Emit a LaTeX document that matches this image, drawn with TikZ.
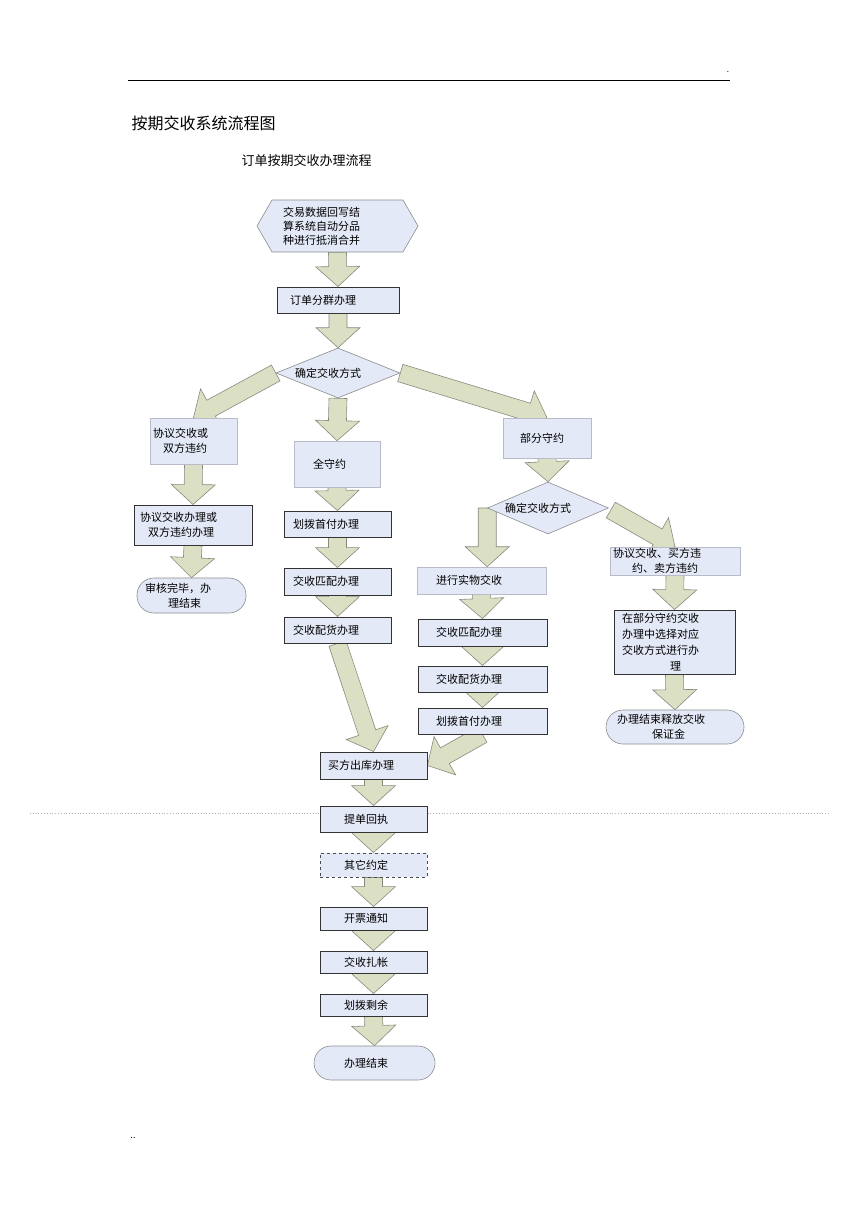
\documentclass[tikz,border=0pt]{standalone}
\usepackage{fontspec}
\setmainfont{Noto Sans CJK SC}
\usepackage{tikz}
\usetikzlibrary{calc,shapes.geometric,shapes.symbols,backgrounds}

\definecolor{boxfill}{RGB}{228,233,247}
\definecolor{arrowfill}{RGB}{219,224,196}
\definecolor{arrowline}{RGB}{135,138,125}
\definecolor{softline}{RGB}{185,188,200}

\tikzset{
  box/.style={draw=black!80, line width=0.9pt, fill=boxfill, inner ysep=0pt,
    align=left, font=\fontsize{11}{15}\selectfont},
  softbox/.style={box, draw=softline, line width=0.6pt},
  dashbox/.style={box, dashed, draw=black!70},
  endbox/.style={softbox, draw=black!45, rounded corners=17pt},
  decide/.style={diamond, aspect=2.4, draw=black!45, line width=0.6pt, fill=boxfill,
    inner sep=0pt, font=\fontsize{11}{15}\selectfont},
  hexa/.style={signal, signal to=west and east, signal pointer angle=120,
    draw=black!45, line width=0.6pt, fill=boxfill, inner sep=0pt,
    align=left, font=\fontsize{11}{14}\selectfont},
  bigarrow/.style={draw=arrowline, fill=arrowfill, line width=0.6pt, line join=miter}
}

% fat block arrow from #1 to #2
\newcommand{\blockarrow}[2]{%
  \coordinate (ah) at ($(#2)!20pt!(#1)$);
  \draw[bigarrow] ($(#1)!9pt!90:(#2)$) -- ($(ah)!9pt!90:(#2)$) -- ($(ah)!22pt!90:(#2)$)
    -- (#2) -- ($(ah)!22pt!-90:(#2)$) -- ($(ah)!9pt!-90:(#2)$) -- ($(#1)!9pt!-90:(#2)$) -- cycle;
}

\begin{document}
\begin{tikzpicture}[x=1pt,y=-1pt]
  \useasboundingbox (0,0) rectangle (860,1218);

  \draw[line width=0.6pt] (128,80) -- (730,80);
  \node(dot)[font=\fontsize{8}{8}\selectfont] at (728,72) {.};
  \node(title)[anchor=west, font=\fontsize{16}{18}\selectfont] at (128,123) {按期交收系统流程图};
  \node(sub)[anchor=west, font=\fontsize{13}{15}\selectfont] at (238,161) {订单按期交收办理流程};
  \draw[black!30, dotted, line width=0.8pt] (30,813) -- (830,813);
  \node(dots)[font=\fontsize{9}{9}\selectfont] at (133,1138) {..};

  % top
  \node(hex)[hexa, minimum width=161pt, minimum height=52pt, text width=109pt] at (337.5,226)
    {交易数据回写结\\算系统自动分品\\种进行抵消合并};
  \node(grp)[box, minimum height=26pt, inner xsep=13pt, text width=96pt] at (338,300) {订单分群办理};
  \node(d1)[decide, minimum width=124pt, minimum height=50pt] at (338,373) {确定交收方式\hspace*{20pt}};

  % left branch
  \node(bilat)[softbox, minimum height=46pt, inner xsep=3pt, text width=81pt] at (193.5,441)
    {协议交收或\\\hspace*{10pt}双方违约};
  \node(bilatp)[box, minimum height=40pt, inner xsep=6pt, text width=106pt] at (193,525)
    {协议交收办理或\\\hspace*{8pt}双方违约办理};
  \node(end1)[endbox, minimum height=35pt, inner xsep=8pt, text width=93pt] at (191.5,595.5)
    {审核完毕，办\\\hspace*{23pt}理结束};

  % middle branch
  \node(full)[softbox, minimum height=46pt, inner xsep=19pt, text width=48pt] at (337,464) {全守约};
  \node(m1)[box, minimum height=26pt, inner xsep=9pt, text width=89pt] at (337.5,524) {划拨首付办理};
  \node(m2)[box, minimum height=27pt, inner xsep=9pt, text width=89pt] at (337.5,581.5) {交收匹配办理};
  \node(m3)[box, minimum height=26pt, inner xsep=9pt, text width=89pt] at (337.5,630) {交收配货办理};

  % right branch
  \node(part)[softbox, minimum height=40pt, inner xsep=17pt, text width=54pt] at (547,438) {部分守约};
  \node(d2)[decide, minimum width=121pt, minimum height=52pt] at (548,508) {确定交收方式\hspace*{20pt}};
  \node(phys)[softbox, minimum height=27pt, inner xsep=19pt, text width=91pt] at (481.5,580.5) {进行实物交收};
  \node(r1)[box, minimum height=27pt, inner xsep=18pt, text width=93pt] at (482.5,632.5) {交收匹配办理};
  \node(r2)[box, minimum height=26pt, inner xsep=18pt, text width=93pt] at (482.5,679) {交收配货办理};
  \node(r3)[box, minimum height=26pt, inner xsep=18pt, text width=93pt] at (482.5,721) {划拨首付办理};
  \node(brk)[softbox, minimum height=28pt, inner xsep=3pt, text width=124pt] at (675,561)
    {协议交收、买方违\\\hspace*{19pt}约、卖方违约};
  \node(sel)[box, minimum height=64pt, inner xsep=8pt, text width=105pt,
    font=\fontsize{11}{16}\selectfont] at (674.5,642)
    {在部分守约交收\\办理中选择对应\\交收方式进行办\\\hspace*{48pt}理};
  \node(end2)[endbox, minimum height=34pt, inner xsep=11pt, text width=116pt] at (675,727)
    {办理结束释放交收\\\hspace*{35pt}保证金};

  % common tail
  \node(out)[box, minimum height=27pt, inner xsep=8pt, text width=91pt] at (373.5,765.5) {买方出库办理};
  \node(bill)[box, minimum height=26pt, inner xsep=24pt, text width=59pt] at (373.5,819) {提单回执};
  \node(other)[dashbox, minimum height=24pt, inner xsep=24pt, text width=59pt] at (373.5,865) {其它约定};
  \node(inv)[box, minimum height=23pt, inner xsep=24pt, text width=59pt] at (373.5,918.5) {开票通知};
  \node(acct)[box, minimum height=22pt, inner xsep=24pt, text width=59pt] at (373.5,962) {交收扎帐};
  \node(rest)[box, minimum height=22pt, inner xsep=24pt, text width=59pt] at (373.5,1005) {划拨剩余};
  \node(end3)[endbox, minimum height=34pt, inner xsep=30pt, text width=61pt] at (374.5,1063) {办理结束};

  \coordinate (d2left) at (d2.west);
  \coordinate (physin) at (d2.west |- phys.north);
  \coordinate (d2right) at ($(d2.east)+(2,2)$);

  \begin{pgfonlayer}{background}
  \foreach \a/\b in {hex.south/grp.north, grp.south/d1.north, d1.west/bilat.north,
      d1.south/full.north, d1.east/part.north, part.south/d2.north,
      d2left/physin, d2right/brk.north,
      bilat.south/bilatp.north, bilatp.south/end1.north,
      full.south/m1.north, m1.south/m2.north, m2.south/m3.north, m3.south/out.north,
      phys.south/r1.north, r1.south/r2.north, r2.south/r3.north, r3.south/out.east,
      brk.south/sel.north, sel.south/end2.north,
      out.south/bill.north, bill.south/other.north, other.south/inv.north,
      inv.south/acct.north, acct.south/rest.north, rest.south/end3.north}
    \blockarrow{\a}{\b};
  \end{pgfonlayer}
\end{tikzpicture}
\end{document}
